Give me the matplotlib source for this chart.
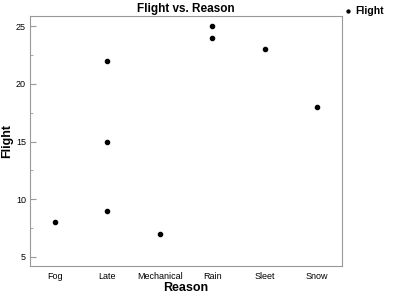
import matplotlib.pyplot as plt
from matplotlib.ticker import MultipleLocator

plt.rcParams['font.family'] = ['Liberation Sans', 'DejaVu Sans']

reasons = ['Fog', 'Late', 'Mechanical', 'Rain', 'Sleet', 'Snow']
reason = ['Fog', 'Late', 'Late', 'Late', 'Mechanical', 'Rain', 'Rain', 'Sleet', 'Snow']
flight = [8, 22, 15, 9, 7, 25, 24, 23, 18]

fig = plt.figure(figsize=(4, 2.98), dpi=100)
ax = fig.add_axes([30/400, 1 - 266/298, 312/400, 250/298])

xs = [reasons.index(r) for r in reason]
ax.scatter(xs, flight, s=9, color='black', label='Flight', zorder=3)

ax.set_xlim(-0.48, 5.48)
ax.set_ylim(4.22, 25.87)
ax.set_xticks(range(len(reasons)))
ax.set_xticklabels(reasons, fontsize=6.5)
ax.tick_params(axis='x', length=0, pad=4)
ax.yaxis.set_major_locator(MultipleLocator(5))
ax.yaxis.set_minor_locator(MultipleLocator(2.5))
ax.tick_params(axis='y', which='major', direction='in', length=4, color='#999999', labelsize=6.5, pad=3)
ax.tick_params(axis='y', which='minor', direction='in', length=2, color='#999999')
for s in ax.spines.values():
    s.set_color('#999999')

ax.set_title('Flight vs. Reason', fontsize=8.5, fontweight='bold', pad=3)
ax.set_xlabel('Reason', fontsize=9, fontweight='bold', labelpad=1)
ax.set_ylabel('Flight', fontsize=9, fontweight='bold', labelpad=2)

# legend sits outside the plot, top right
ax.legend(loc='upper left', bbox_to_anchor=(1.0, 1.05), frameon=False,
          prop={'size': 7.5, 'weight': 'bold'}, handletextpad=0.3, handlelength=0.8,
          borderaxespad=0.2, borderpad=0, markerscale=0.7)

fig.savefig('out.png', dpi=100)
